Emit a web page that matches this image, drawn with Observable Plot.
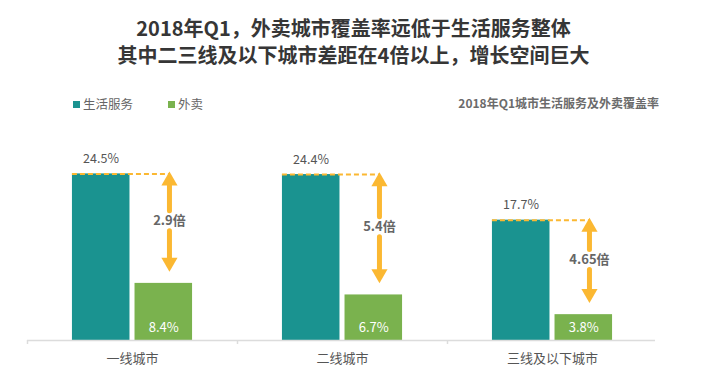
<!DOCTYPE html>
<html>
<head>
<meta charset="utf-8">
<script src="https://cdn.jsdelivr.net/npm/d3@7"></script>
<script src="https://cdn.jsdelivr.net/npm/@observablehq/plot@0.6"></script>
<style>
  html, body { margin: 0; padding: 0; background: #fff; }
  body { width: 707px; height: 383px; overflow: hidden; font-family: "Noto Sans CJK SC", "Noto Sans", sans-serif; }
  #header { position: relative; width: 707px; height: 120px; }
  .tline { position: absolute; left: 0; width: 707px; text-align: center; font-size: 20px; line-height: 22px; height: 22px; font-weight: bold; color: #363636; white-space: nowrap; }
  .legend { position: absolute; top: 95px; font-size: 12.5px; line-height: 18px; color: #666; display: flex; align-items: center; }
  .sw { display: inline-block; width: 7px; height: 7px; margin-right: 3px; }
  #subtitle { position: absolute; top: 94px; right: 48px; font-size: 12px; line-height: 18px; font-weight: bold; color: #6b6b6b; }
  #chart svg { display: block; }
</style>
</head>
<body>
<div id="header">
  <div class="tline" style="top:17px">2018年Q1，外卖城市覆盖率远低于生活服务整体</div>
  <div class="tline" style="top:44px">其中二三线及以下城市差距在4倍以上，增长空间巨大</div>
  <div class="legend" id="leg1" style="left:73px"></div>
  <div class="legend" id="leg2" style="left:168px"></div>
  <div id="subtitle">2018年Q1城市生活服务及外卖覆盖率</div>
</div>
<div id="chart"></div>
<script>
const cities = ["一线城市", "二线城市", "三线及以下城市"];
const series = ["生活服务", "外卖"];
const lifeService = [24.5, 24.4, 17.7];
const delivery = [8.4, 6.7, 3.8];
const ratioLabels = ["2.9倍", "5.4倍", "4.65倍"];

const teal = "#1a9390";
const green = "#7ab24e";
const orange = "#fbb832";
const colors = [teal, green];

document.getElementById("leg1").innerHTML = `<span class="sw" style="background:${colors[0]}"></span>${series[0]}`;
document.getElementById("leg2").innerHTML = `<span class="sw" style="background:${colors[1]}"></span>${series[1]}`;

const rows = cities.map((c, i) => ({
  i, city: c, life: lifeService[i], waimai: delivery[i], ratio: ratioLabels[i],
  mid: (lifeService[i] + delivery[i]) / 2
}));

const barW = 0.274, gap = 0.012, arrowX = 0.176;
const ax = d => d.i + arrowX;

const chart = Plot.plot({
  width: 707,
  height: 263,
  marginLeft: 27,
  marginRight: 50,
  marginTop: 16,
  marginBottom: 43,
  x: { domain: [-0.5, 2.5], axis: null, label: null },
  y: { domain: [0, 30], axis: null, label: null },
  style: { fontFamily: "'Noto Sans CJK SC', 'Noto Sans', sans-serif", background: "transparent" },
  marks: [
    Plot.rectY(rows, { x1: d => d.i - gap - barW, x2: d => d.i - gap, y: "life", fill: colors[0] }),
    Plot.rectY(rows, { x1: d => d.i + gap, x2: d => d.i + gap + barW, y: "waimai", fill: colors[1] }),
    Plot.ruleY([0], { stroke: "#dcdcdc", strokeWidth: 1.5, insetRight: 2 }),
    Plot.axisX({ ticks: [-0.5, 0.5, 1.5], tickSize: 4, tickFormat: () => "", stroke: "#dcdcdc", strokeWidth: 1.5, label: null }),
    Plot.text(rows, { x: "i", y: 0, text: "city", dy: 18, fontSize: 13, fill: "#555" }),
    Plot.ruleY(rows, { y: "life", x1: d => d.i - gap - barW, x2: ax, stroke: orange, strokeWidth: 2, strokeDasharray: "5,3" }),
    Plot.text(rows, { x: d => d.i - 0.15, y: "life", text: d => d.life.toFixed(1) + "%", dy: -15, fontSize: 12.5, fill: "#555" }),
    Plot.text(rows, { x: d => d.i + gap + barW / 2, y: 0, text: d => d.waimai.toFixed(1) + "%", dy: -13, fontSize: 13, fill: "#fff" }),
    // arrow shafts (no heads), with a gap around the ratio label
    Plot.arrow(rows, { x1: ax, x2: ax, y1: "mid", y2: "life", insetStart: 18, insetEnd: 9, headLength: 0, stroke: orange, strokeWidth: 5 }),
    Plot.arrow(rows, { x1: ax, x2: ax, y1: "mid", y2: "waimai", insetStart: 2, insetEnd: 26, headLength: 0, stroke: orange, strokeWidth: 5 }),
    // arrow heads
    Plot.dot(rows, { x: ax, y: "life", dy: 7, symbol: "triangle", r: 6, fill: orange }),
    Plot.dot(rows, { x: ax, y: "waimai", dy: -21, symbol: "triangle", rotate: 180, r: 6, fill: orange }),
    Plot.text(rows, { x: ax, y: "mid", text: "ratio", dy: -8, fontSize: 13, fontWeight: "bold", fill: "#666" })
  ]
});
document.getElementById("chart").appendChild(chart);
</script>
</body>
</html>
